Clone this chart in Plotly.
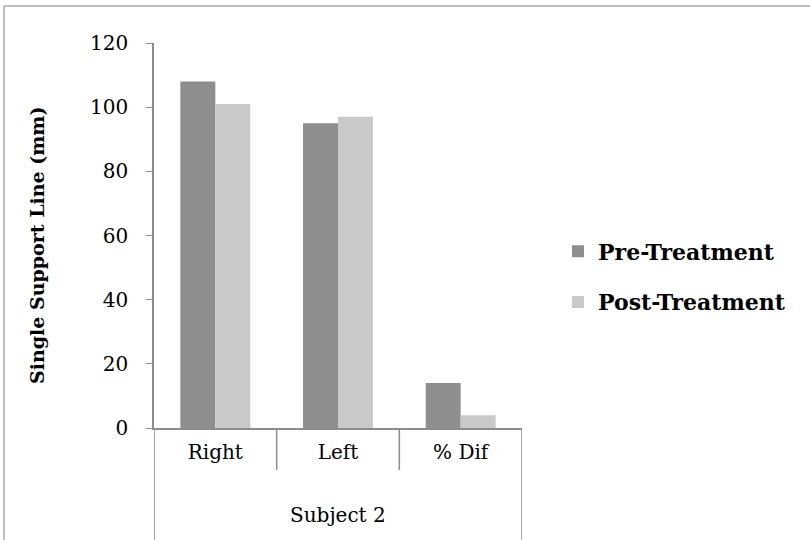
import plotly.graph_objects as go

categories = ["Right", "Left", "% Dif"]
group_label = "Subject 2"
pre_treatment = [108, 95, 14]
post_treatment = [101, 97, 4]
series_names = ["Pre-Treatment", "Post-Treatment"]
colors = ["#8E8E8E", "#C9C9C9"]
y_ticks = [0, 20, 40, 60, 80, 100, 120]
y_title = "Single Support Line (mm)"

FONT = "DejaVu Serif"

fig = go.Figure()
for i, (name, vals) in enumerate(zip(series_names, [pre_treatment, post_treatment])):
    fig.add_trace(go.Bar(
        x=categories, y=vals, name=name, marker_color=colors[i],
        marker_line_width=0, legendgroup=name,
    ))

W, H = 810, 540
L, R, T, B = 154, 522, 43, 428  # plot area in page pixels
pw, ph = R - L, B - T

def px_x(px):
    return (px - L) / pw

def px_y(py):
    return (B - py) / ph

line_col = "#8C8C8C"
shapes = []
shapes.append(dict(type="line", xref="paper", yref="paper",
                   x0=px_x(4), x1=px_x(4), y0=px_y(6), y1=px_y(560),
                   line=dict(color="#A8A8A8", width=1.5)))
shapes.append(dict(type="line", xref="paper", yref="paper",
                   x0=px_x(4), x1=px_x(830), y0=px_y(6), y1=px_y(6),
                   line=dict(color="#A8A8A8", width=1.5)))
n = len(categories)
for k in range(n + 1):
    outer = k == 0 or k == n
    shapes.append(dict(type="line", xref="x", yref="paper",
                       x0=k - 0.5, x1=k - 0.5, y0=0,
                       y1=px_y(560) if outer else px_y(470),
                       line=dict(color=line_col, width=1.5)))

fig.update_layout(
    width=W, height=H,
    margin=dict(l=L, r=W - R, t=T, b=H - B, autoexpand=False),
    paper_bgcolor="white", plot_bgcolor="white",
    barmode="group", bargap=0.43, bargroupgap=0,
    font=dict(family=FONT, color="black"),
    shapes=shapes,
    showlegend=True,
    legend=dict(x=px_x(558), y=px_y(277), xanchor="left", yanchor="middle",
                font=dict(family=FONT, size=22, weight="bold"),
                traceorder="grouped", tracegroupgap=19,
                itemwidth=30, bgcolor="rgba(0,0,0,0)"),
    annotations=[
        dict(x=1, y=px_y(515), xref="x", yref="paper",
             text=group_label, showarrow=False,
             font=dict(family=FONT, size=20), yanchor="middle"),
        dict(x=px_x(37), y=px_y(245), xref="paper", yref="paper",
             text="<b>" + y_title + "</b>", showarrow=False, textangle=-90,
             font=dict(family=FONT, size=19), xanchor="center", yanchor="middle"),
    ],
)
fig.update_xaxes(
    type="category", showline=True, linecolor=line_col, linewidth=1.5,
    ticks="", showgrid=False, tickfont=dict(family=FONT, size=20),
    ticklabelstandoff=5, range=[-0.5, n - 0.5],
)
fig.update_yaxes(
    range=[0, 120], tickvals=y_ticks, showline=True, linecolor=line_col,
    linewidth=1.5, ticks="outside", ticklen=6, tickcolor=line_col,
    showgrid=False, zeroline=False, tickfont=dict(family=FONT, size=20),
    ticklabelstandoff=14,
)

fig.write_html("out.html", config={"displayModeBar": False},
               post_script="document.body.style.margin='0px';")
